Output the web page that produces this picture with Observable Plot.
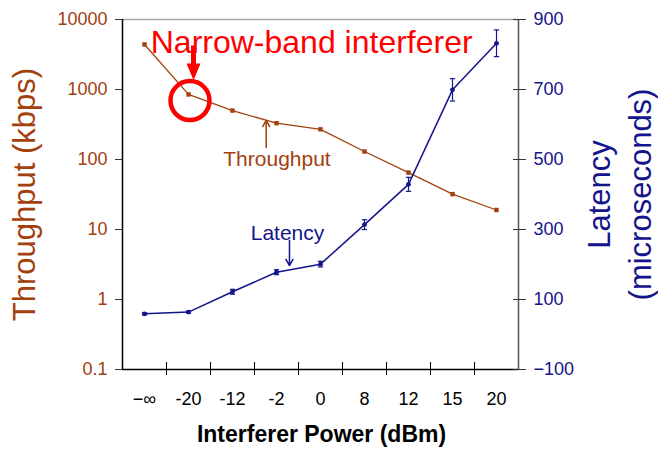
<!DOCTYPE html>
<html>
<head>
<meta charset="utf-8">
<script src="https://cdn.jsdelivr.net/npm/d3@7"></script>
<script src="https://cdn.jsdelivr.net/npm/@observablehq/plot@0.6"></script>
<style>
  html, body { margin: 0; padding: 0; background: #fff; }
  #chart { position: relative; width: 658px; height: 449px; }
  #chart svg { position: absolute; left: 0; top: 0; }
</style>
</head>
<body>
<div id="chart"></div>
<script>
// ---- data ----
const categories = ["−∞", "-20", "-12", "-2", "0", "8", "12", "15", "20"];
const throughput = [4400, 850, 500, 330, 270, 130, 65, 32, 19];       // kbps (log axis)
const latency = [59, 64, 122, 178, 201, 314, 429, 699, 832];          // microseconds
const latencyErr = [3, 3, 7, 7, 8, 14, 20, 32, 38];
const throughputTicks = [0.1, 1, 10, 100, 1000, 10000];
const latencyTicks = [-100, 100, 300, 500, 700, 900];

// annotation anchors in data space (x = category index)
const calloutLabel = [{x: 3.8, y: 4725, text: "Narrow-band interferer"}];
const calloutShaft = [{x: 1.114, y1: 4253, y2: 2150}];
const calloutHead = [{x: 1.114, y: 2352}];
const calloutRing = [{x: 1.034, y: 696}];
const thrLabel = [{x: 3.011, y: 100, text: "Throughput"}];
const thrArrow = [{x: 2.766, y1: 148, y2: 361}];
const latLabel = [{x: 3.25, y: 288.6, text: "Latency"}];
const latArrow = [{x: 3.295, y1: 268.6, y2: 197.1}];

// ---- styles ----
const FONT = "'Liberation Sans', Arial, Helvetica, sans-serif";
const BROWN = "#a3400e";
const NAVY = "#14148c";
const RED = "#ff0000";
const W = 658, H = 449;
const margins = {marginLeft: 122, marginRight: 140, marginTop: 19, marginBottom: 80};
const xDomain = [-0.5, categories.length - 0.5];
const cap = 0.06;

const rows = categories.map((c, i) => ({i, label: c, thr: throughput[i], lat: latency[i], err: latencyErr[i]}));
const bounds = d3.range(categories.length - 1).map(i => i + 0.5);

const downHead = {
  draw(ctx, size) {
    const w = Math.sqrt(size / Math.PI);
    ctx.moveTo(-w, 0); ctx.lineTo(w, 0); ctx.lineTo(0, 2.4 * w); ctx.closePath();
  }
};

const left = Plot.plot({
  width: W, height: H, ...margins,
  style: {fontFamily: FONT, background: "transparent", overflow: "visible"},
  x: {type: "linear", domain: xDomain, axis: null},
  y: {type: "log", domain: [0.1, 10000], axis: null},
  marks: [
    Plot.ruleY([10000], {stroke: "#a8a8a8", strokeWidth: 1.5}),
    Plot.ruleX([xDomain[0]], {stroke: "#000", strokeWidth: 1.5}),
    Plot.ruleY([0.1], {stroke: "#000", strokeWidth: 1.5}),
    Plot.axisY(throughputTicks, {anchor: "left", tickFormat: d => String(d), tickSize: 7, tickPadding: 8,
      fontSize: 18, fill: BROWN, stroke: "#333", label: null}),
    Plot.axisX(d3.range(categories.length), {anchor: "bottom", tickFormat: i => categories[i], tickSize: 0,
      tickPadding: 23, fontSize: 18, fill: "#000", label: null}),
    Plot.axisX(bounds, {anchor: "bottom", tickFormat: () => "", tickSize: 13, dy: -7, stroke: "#000", label: null}),
    Plot.text(["Throughput (kbps)"], {frameAnchor: "left", textAnchor: "middle", lineAnchor: "middle",
      dx: -97, rotate: -90, fontSize: 31, fill: BROWN}),
    Plot.text(["Interferer Power (dBm)"], {frameAnchor: "bottom", lineAnchor: "middle", dy: 65, dx: 1,
      fontSize: 23, fontWeight: "bold", fill: "#000", style: "letter-spacing:0.9px"}),
    Plot.line(rows, {x: "i", y: "thr", stroke: BROWN, strokeWidth: 1.3}),
    Plot.dot(rows, {x: "i", y: "thr", symbol: "square", r: 2.5, fill: BROWN}),
    Plot.text(thrLabel, {x: "x", y: "y", text: "text", fontSize: 21, fill: BROWN}),
    Plot.arrow(thrArrow, {x1: "x", x2: "x", y1: "y1", y2: "y2", stroke: BROWN, strokeWidth: 1.5, headLength: 7}),
    Plot.text(calloutLabel, {x: "x", y: "y", text: "text", fontSize: 32, fill: RED}),
    Plot.link(calloutShaft, {x1: "x", x2: "x", y1: "y1", y2: "y2", stroke: RED, strokeWidth: 5}),
    Plot.dot(calloutHead, {x: "x", y: "y", symbol: downHead, r: 7, fill: RED, stroke: "none"}),
    Plot.dot(calloutRing, {x: "x", y: "y", r: 19.5, stroke: RED, strokeWidth: 4.5, fill: "none"})
  ]
});

const right = Plot.plot({
  width: W, height: H, ...margins,
  style: {fontFamily: FONT, background: "transparent", overflow: "visible"},
  x: {type: "linear", domain: xDomain, axis: null},
  y: {type: "linear", domain: [-100, 900], axis: null},
  marks: [
    Plot.ruleX([xDomain[1]], {stroke: "#555", strokeWidth: 1.5}),
    Plot.axisY(latencyTicks, {anchor: "right", tickSize: 13, dx: -6, tickPadding: 8, fontSize: 18,
      fill: NAVY, stroke: "#333", label: null}),
    Plot.text(["Latency"], {frameAnchor: "right", textAnchor: "middle", lineAnchor: "middle",
      dx: 82, rotate: -90, fontSize: 31, fill: NAVY}),
    Plot.text(["(microseconds)"], {frameAnchor: "right", textAnchor: "middle", lineAnchor: "middle",
      dx: 123, rotate: -90, fontSize: 31, fill: NAVY}),
    Plot.ruleX(rows, {x: "i", y1: d => d.lat - d.err, y2: d => d.lat + d.err, stroke: NAVY, strokeWidth: 1.2}),
    Plot.link(rows, {x1: d => d.i - cap, x2: d => d.i + cap, y1: d => d.lat + d.err, y2: d => d.lat + d.err, stroke: NAVY, strokeWidth: 1.2}),
    Plot.link(rows, {x1: d => d.i - cap, x2: d => d.i + cap, y1: d => d.lat - d.err, y2: d => d.lat - d.err, stroke: NAVY, strokeWidth: 1.2}),
    Plot.line(rows, {x: "i", y: "lat", stroke: NAVY, strokeWidth: 1.5}),
    Plot.dot(rows, {x: "i", y: "lat", r: 2.4, fill: NAVY}),
    Plot.text(latLabel, {x: "x", y: "y", text: "text", fontSize: 21, fill: NAVY}),
    Plot.arrow(latArrow, {x1: "x", x2: "x", y1: "y1", y2: "y2", stroke: NAVY, strokeWidth: 1.5, headLength: 7})
  ]
});

const chart = document.getElementById("chart");
chart.appendChild(left);
chart.appendChild(right);
</script>
</body>
</html>
